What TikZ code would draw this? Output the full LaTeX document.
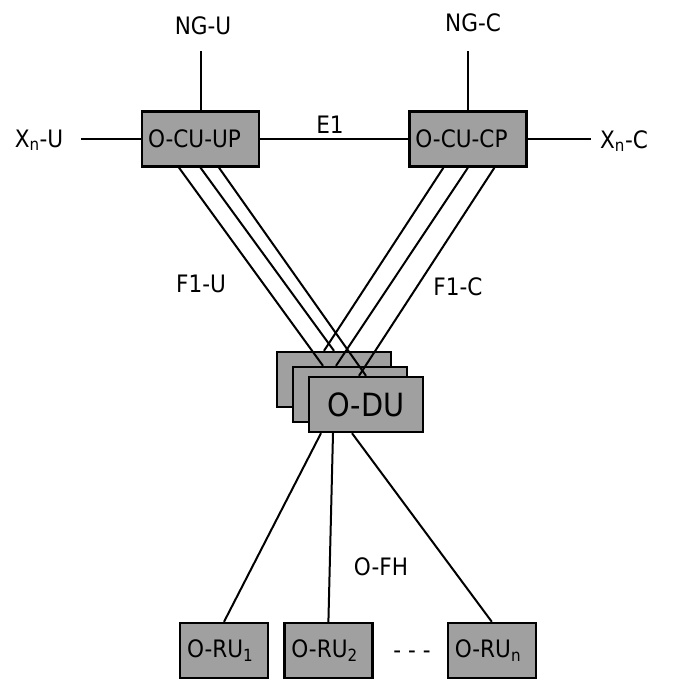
\documentclass[tikz,border=0pt]{standalone}
\usepackage{fontspec}
\setmainfont{DejaVu Sans}[FakeStretch=0.9]
\usepackage{xcolor}
\usetikzlibrary{positioning}
\definecolor{boxgray}{RGB}{160,160,160}
\pgfdeclarelayer{back}
\pgfdeclarelayer{mid}
\pgfsetlayers{back,mid,main}

\begin{document}
\begin{tikzpicture}[x=1pt, y=-1pt,
    every node/.style={font=\fontsize{24}{28}\selectfont},
    box/.style={draw, fill=boxgray, line width=2.4pt, minimum height=55pt,
      inner xsep=6pt, inner ysep=0pt, text width=#1, align=left},
    dubox/.style={draw, fill=boxgray, line width=2.4pt,
      minimum width=114pt, minimum height=55pt, inner sep=0pt},
    link/.style={draw, line width=2pt},
    lbl/.style={anchor=base, inner sep=0pt}]
  \useasboundingbox (0,0) rectangle (680,682);

  % central units
  \node (cuup) [box=105pt] at (200.5,139) {O-CU-UP};
  \node (cucp) [box=105pt, right=148pt of cuup] {O-CU-CP};

  % O-DU stack, back to front
  \begin{pgfonlayer}{back}
    \node (du1) [dubox] at (334,379.5) {};
  \end{pgfonlayer}
  \begin{pgfonlayer}{mid}
    \node (du2) [dubox] at (350,394.5) {};
  \end{pgfonlayer}
  \node (du3) [dubox, font=\fontsize{32}{36}\selectfont] at (366,404.5) {O-DU};

  % radio units
  \node (ru1) [box=74pt, inner xsep=7pt] at (224,650.5) {O-RU\textsubscript{1}};
  \node (ru2) [box=74pt, inner xsep=7pt, right=14pt of ru1] {O-RU\textsubscript{2}};
  \node (run) [box=74pt, inner xsep=7pt, right=73pt of ru2] {O-RU\textsubscript{n}};
  \node (dots) [lbl] at (412,658) {- - -};

  % external interfaces
  \coordinate [above=59pt of cuup.north] (nguend);
  \coordinate [above=59pt of cucp.north] (ngcend);
  \coordinate [left=60pt of cuup.west] (xnuend);
  \coordinate [right=63pt of cucp.east] (xncend);
  \draw[link] (nguend) -- (cuup.north);
  \draw[link] (ngcend) -- (cucp.north);
  \draw[link] (xnuend) -- (cuup.west);
  \draw[link] (cucp.east) -- (xncend);
  \draw[link] (cuup.east) -- (cucp.west);

  \node (ngu) [lbl] at (203,35) {NG-U};
  \node (ngc) [lbl] at (473,32) {NG-C};
  \node (xnu) [lbl] at (39,147) {X\textsubscript{n}-U};
  \node (xnc) [lbl] at (624,148) {X\textsubscript{n}-C};
  \node (e1) [lbl] at (330,133) {E1};
  \node (f1u) [lbl] at (201,292) {F1-U};
  \node (f1c) [lbl] at (458,295) {F1-C};
  \node (ofh) [lbl] at (381,575) {O-FH};

  % F1 links, layered between the O-DU boxes
  \begin{pgfonlayer}{back}
    \draw[link] (cuup.south) -- (du1.north);
    \draw[link] ([xshift=-24.5pt]cucp.south) -- ([xshift=-10pt]du1.north);
    \draw[link] ([xshift=-21.5pt]cuup.south) -- ([xshift=-27pt]du2.north);
    \draw[link] (cucp.south) -- ([xshift=-14pt]du2.north);
  \end{pgfonlayer}
  \begin{pgfonlayer}{mid}
    \draw[link] ([xshift=18.5pt]cuup.south) -- (du3.north);
    \draw[link] ([xshift=26.5pt]cucp.south) -- ([xshift=-7pt]du3.north);
  \end{pgfonlayer}

  % fronthaul
  \draw[link] ([xshift=-45pt]du3.south) -- (ru1.north);
  \draw[link] ([xshift=-33pt]du3.south) -- (ru2.north);
  \draw[link] ([xshift=-14pt]du3.south) -- (run.north);
\end{tikzpicture}
\end{document}
